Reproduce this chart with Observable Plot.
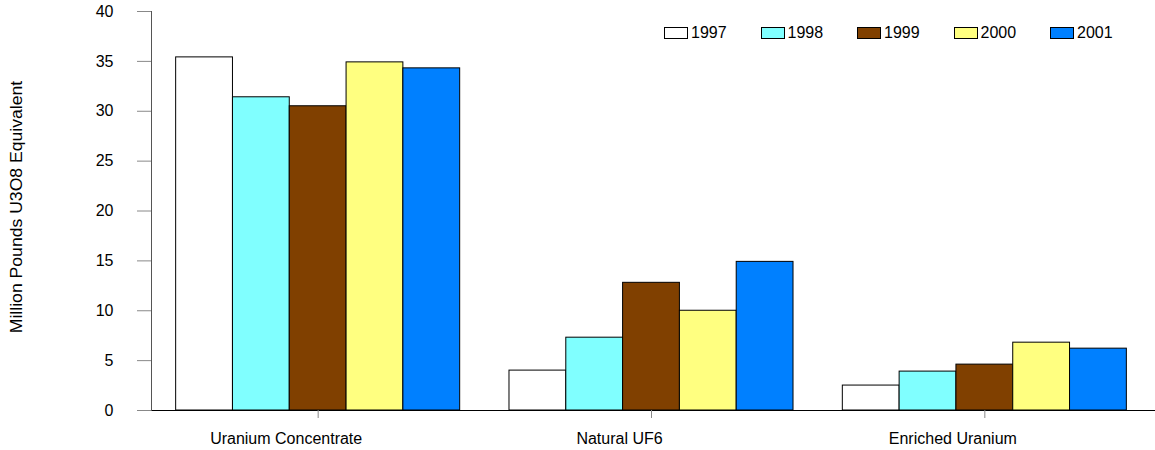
<!DOCTYPE html>
<html><head><meta charset="utf-8">
<script src="https://cdn.jsdelivr.net/npm/d3@7"></script>
<script src="https://cdn.jsdelivr.net/npm/@observablehq/plot@0.6"></script>
<style>
body{margin:0;background:#fff;font-family:"Liberation Sans",Arial,sans-serif}
#wrap{position:relative;width:1155px;height:450px}
#ylabel{position:absolute;left:17px;top:207px;transform:translate(-50%,-50%) rotate(-90deg) scaleX(1.1);white-space:nowrap;font-size:16px;color:#000}
#legend{position:absolute;left:664px;top:26px;display:flex;font-size:16px;color:#000}
#legend .item{width:96.5px;display:flex;align-items:center;height:14px}
#legend .sw{width:22px;height:10px;border:1px solid #000;margin-right:3px;box-sizing:content-box}
</style></head><body>
<div id="wrap"></div>
<script>
const categories = ["Uranium Concentrate", "Natural UF6", "Enriched Uranium"];
const years = ["1997", "1998", "1999", "2000", "2001"];
const colors = ["#FFFFFF", "#80FFFF", "#804000", "#FFFF80", "#0080FF"];
const v1997 = [35.4, 4.0, 2.5];
const v1998 = [31.4, 7.3, 3.9];
const v1999 = [30.5, 12.8, 4.6];
const v2000 = [34.9, 10.0, 6.8];
const v2001 = [34.3, 14.9, 6.2];
const yTicks = [0, 5, 10, 15, 20, 25, 30, 35, 40];
const yLabel = "Million Pounds U3O8 Equivalent";

const series = [v1997, v1998, v1999, v2000, v2001];
const data = [];
years.forEach((yr, i) => categories.forEach((c, j) => data.push({category: c, year: yr, value: series[i][j]})));

const chart = Plot.plot({
  width: 1155, height: 450,
  marginLeft: 151, marginRight: 4, marginTop: 11, marginBottom: 40,
  style: {fontFamily: "'Liberation Sans', Arial, sans-serif", fontSize: "16px", background: "white", color: "black", overflow: "visible"},
  fx: {domain: categories, padding: 0, round: false, label: null, axis: null},
  x: {domain: years, paddingInner: 0, paddingOuter: 0.434, round: false, axis: null},
  y: {domain: [0, 40], axis: null},
  color: {domain: years, range: colors},
  marks: [
    Plot.barY(data, {fx: "category", x: "year", y: "value", fill: "year", stroke: "black", strokeWidth: 1}),
    Plot.ruleY([0], {stroke: "black", insetRight: -4}),
    Plot.frame({anchor: "left", stroke: "#555", facetAnchor: "left"}),
    Plot.axisY({ticks: yTicks, tickSize: 14, tickPadding: 24, stroke: "#888", label: null, fill: "black"}),
    Plot.axisFx({anchor: "bottom", tickSize: 8, text: null, stroke: "#888", label: null}),
    Plot.axisFx({anchor: "bottom", tickSize: 0, tickPadding: 22, dx: -32, label: null, fill: "black"})
  ]
});
const wrap = document.getElementById("wrap");
wrap.appendChild(chart);

const yl = document.createElement("div");
yl.id = "ylabel"; yl.textContent = yLabel;
wrap.appendChild(yl);

const lg = document.createElement("div");
lg.id = "legend";
years.forEach((yr, i) => {
  const it = document.createElement("div"); it.className = "item";
  const sw = document.createElement("span"); sw.className = "sw"; sw.style.background = colors[i];
  const t = document.createElement("span"); t.textContent = yr;
  it.appendChild(sw); it.appendChild(t); lg.appendChild(it);
});
wrap.appendChild(lg);
</script>
</body></html>
